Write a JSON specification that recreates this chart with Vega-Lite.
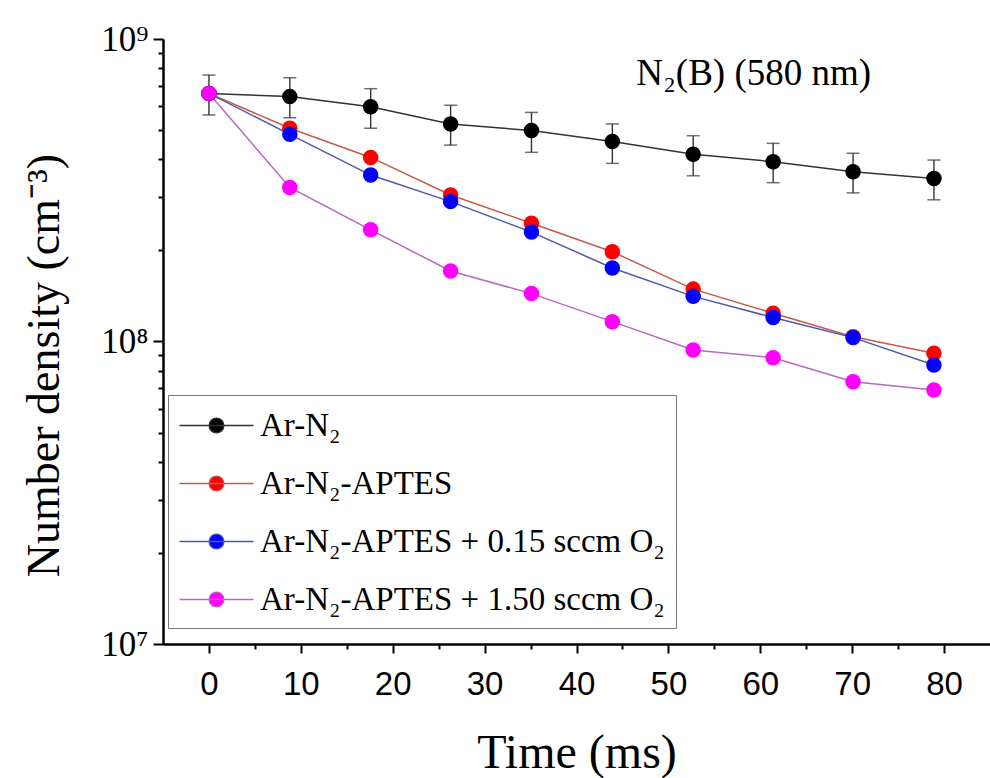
{
  "$schema": "https://vega.github.io/schema/vega-lite/v6.json",
  "width": 827,
  "height": 605,
  "autosize": "none",
  "padding": {"left": 163, "top": 39, "right": 0, "bottom": 134},
  "background": "white",
  "config": {
    "view": {"stroke": null},
    "axis": {"grid": false, "domainColor": "#000", "tickColor": "#000", "labelColor": "#000", "titleColor": "#000", "titleFontWeight": "normal"}
  },
  "data": {
    "values": [
      {"series": "Ar-N₂", "t": 0, "v": 6.61e8, "lo": 5.61e8, "hi": 7.60e8},
      {"series": "Ar-N₂", "t": 8.8, "v": 6.45e8, "lo": 5.49e8, "hi": 7.45e8},
      {"series": "Ar-N₂", "t": 17.6, "v": 5.97e8, "lo": 5.07e8, "hi": 6.85e8},
      {"series": "Ar-N₂", "t": 26.3, "v": 5.24e8, "lo": 4.46e8, "hi": 6.04e8},
      {"series": "Ar-N₂", "t": 35.1, "v": 4.98e8, "lo": 4.22e8, "hi": 5.72e8},
      {"series": "Ar-N₂", "t": 43.9, "v": 4.58e8, "lo": 3.88e8, "hi": 5.24e8},
      {"series": "Ar-N₂", "t": 52.7, "v": 4.16e8, "lo": 3.53e8, "hi": 4.79e8},
      {"series": "Ar-N₂", "t": 61.4, "v": 3.93e8, "lo": 3.35e8, "hi": 4.52e8},
      {"series": "Ar-N₂", "t": 70.1, "v": 3.64e8, "lo": 3.10e8, "hi": 4.19e8},
      {"series": "Ar-N₂", "t": 78.9, "v": 3.46e8, "lo": 2.94e8, "hi": 3.98e8},
      {"series": "Ar-N₂-APTES", "t": 0, "v": 6.61e8},
      {"series": "Ar-N₂-APTES", "t": 8.8, "v": 5.07e8},
      {"series": "Ar-N₂-APTES", "t": 17.6, "v": 4.06e8},
      {"series": "Ar-N₂-APTES", "t": 26.3, "v": 3.05e8},
      {"series": "Ar-N₂-APTES", "t": 35.1, "v": 2.46e8},
      {"series": "Ar-N₂-APTES", "t": 43.9, "v": 1.98e8},
      {"series": "Ar-N₂-APTES", "t": 52.7, "v": 1.49e8},
      {"series": "Ar-N₂-APTES", "t": 61.4, "v": 1.24e8},
      {"series": "Ar-N₂-APTES", "t": 70.1, "v": 1.037e8},
      {"series": "Ar-N₂-APTES", "t": 78.9, "v": 9.14e7},
      {"series": "Ar-N₂-APTES + 0.15 sccm O₂", "t": 0, "v": 6.61e8},
      {"series": "Ar-N₂-APTES + 0.15 sccm O₂", "t": 8.8, "v": 4.84e8},
      {"series": "Ar-N₂-APTES + 0.15 sccm O₂", "t": 17.6, "v": 3.55e8},
      {"series": "Ar-N₂-APTES + 0.15 sccm O₂", "t": 26.3, "v": 2.90e8},
      {"series": "Ar-N₂-APTES + 0.15 sccm O₂", "t": 35.1, "v": 2.30e8},
      {"series": "Ar-N₂-APTES + 0.15 sccm O₂", "t": 43.9, "v": 1.75e8},
      {"series": "Ar-N₂-APTES + 0.15 sccm O₂", "t": 52.7, "v": 1.41e8},
      {"series": "Ar-N₂-APTES + 0.15 sccm O₂", "t": 61.4, "v": 1.20e8},
      {"series": "Ar-N₂-APTES + 0.15 sccm O₂", "t": 70.1, "v": 1.03e8},
      {"series": "Ar-N₂-APTES + 0.15 sccm O₂", "t": 78.9, "v": 8.36e7},
      {"series": "Ar-N₂-APTES + 1.50 sccm O₂", "t": 0, "v": 6.61e8},
      {"series": "Ar-N₂-APTES + 1.50 sccm O₂", "t": 8.8, "v": 3.23e8},
      {"series": "Ar-N₂-APTES + 1.50 sccm O₂", "t": 17.6, "v": 2.34e8},
      {"series": "Ar-N₂-APTES + 1.50 sccm O₂", "t": 26.3, "v": 1.71e8},
      {"series": "Ar-N₂-APTES + 1.50 sccm O₂", "t": 35.1, "v": 1.44e8},
      {"series": "Ar-N₂-APTES + 1.50 sccm O₂", "t": 43.9, "v": 1.163e8},
      {"series": "Ar-N₂-APTES + 1.50 sccm O₂", "t": 52.7, "v": 9.37e7},
      {"series": "Ar-N₂-APTES + 1.50 sccm O₂", "t": 61.4, "v": 8.84e7},
      {"series": "Ar-N₂-APTES + 1.50 sccm O₂", "t": 70.1, "v": 7.36e7},
      {"series": "Ar-N₂-APTES + 1.50 sccm O₂", "t": 78.9, "v": 6.91e7}
    ]
  },
  "layer": [
    {
      "mark": {"type": "line", "strokeWidth": 1.5},
      "encoding": {
        "x": {"field": "t", "type": "quantitative",
          "scale": {"domain": [-5, 85], "nice": false, "zero": false},
          "axis": {"orient": "bottom", "values": [0, 5, 10, 15, 20, 25, 30, 35, 40, 45, 50, 55, 60, 65, 70, 75, 80],
            "tickSize": {"condition": {"test": "datum.value % 10 == 0", "value": 9}, "value": 5},
            "tickWidth": 2, "domainWidth": 2.5,
            "labelExpr": "datum.value % 10 == 0 ? datum.label : ''",
            "labelFont": "Liberation Sans", "labelFontSize": 33, "labelPadding": 15,
            "title": "Time (ms)", "titleFont": "Liberation Serif", "titleFontSize": 48, "titlePadding": 28}},
        "y": {"field": "v", "type": "quantitative",
          "scale": {"type": "log", "domain": [1e7, 1e9], "nice": false},
          "axis": {"orient": "left", "values": [1e7, 2e7, 3e7, 4e7, 5e7, 6e7, 7e7, 8e7, 9e7, 1e8, 2e8, 3e8, 4e8, 5e8, 6e8, 7e8, 8e8, 9e8, 1e9],
            "tickSize": {"condition": {"test": "datum.value == 1e7 || datum.value == 1e8 || datum.value == 1e9", "value": 10}, "value": 5},
            "tickWidth": 2, "domainWidth": 2.5,
            "labelExpr": "datum.value == 1e7 ? '10⁷' : datum.value == 1e8 ? '10⁸' : datum.value == 1e9 ? '10⁹' : ''",
            "labelFont": "Liberation Serif", "labelFontSize": 35, "labelPadding": 5,
            "title": "Number density (cm⁻³)", "titleFont": "Liberation Serif", "titleFontSize": 46,
            "titleAngle": -90, "titleBaseline": "alphabetic", "titleX": -105, "titleY": 326, "titleAlign": "center"}},
        "stroke": {"field": "series", "type": "nominal",
          "scale": {"domain": ["Ar-N₂", "Ar-N₂-APTES", "Ar-N₂-APTES + 0.15 sccm O₂", "Ar-N₂-APTES + 1.50 sccm O₂"],
            "range": ["#333333", "#c8584a", "#4a5aa8", "#b868c0"]},
          "legend": {
            "title": null, "orient": "none", "legendX": 5, "legendY": 356,
            "symbolType": "M-2,0H2M-0.4,0A0.4,0.4 0 1,1 0.4,0A0.4,0.4 0 1,1 -0.4,0Z",
            "symbolSize": 1369, "symbolOffset": 18, "symbolStrokeWidth": 1.3,
            "labelFont": "Liberation Serif", "labelFontSize": 33, "labelColor": "#000", "labelOffset": 24, "labelLimit": 800,
            "rowPadding": 21, "padding": 11, "strokeColor": "#777777", "fillColor": "white"
          }}
      }
    },
    {
      "transform": [{"filter": "isValid(datum.lo)"}],
      "mark": {"type": "rule", "color": "#333333", "strokeWidth": 1.4},
      "encoding": {
        "x": {"field": "t", "type": "quantitative"},
        "y": {"field": "lo", "type": "quantitative"},
        "y2": {"field": "hi"}
      }
    },
    {
      "transform": [{"filter": "isValid(datum.lo)"}],
      "mark": {"type": "tick", "orient": "horizontal", "color": "#333333", "size": 13, "thickness": 1.5},
      "encoding": {
        "x": {"field": "t", "type": "quantitative"},
        "y": {"field": "lo", "type": "quantitative"}
      }
    },
    {
      "transform": [{"filter": "isValid(datum.hi)"}],
      "mark": {"type": "tick", "orient": "horizontal", "color": "#333333", "size": 13, "thickness": 1.5},
      "encoding": {
        "x": {"field": "t", "type": "quantitative"},
        "y": {"field": "hi", "type": "quantitative"}
      }
    },
    {
      "mark": {"type": "point", "shape": "circle", "filled": true, "size": 240, "opacity": 1, "strokeOpacity": 0},
      "encoding": {
        "x": {"field": "t", "type": "quantitative"},
        "y": {"field": "v", "type": "quantitative"},
        "fill": {"field": "series", "type": "nominal",
          "scale": {"domain": ["Ar-N₂", "Ar-N₂-APTES", "Ar-N₂-APTES + 0.15 sccm O₂", "Ar-N₂-APTES + 1.50 sccm O₂"],
            "range": ["#000000", "#ff0000", "#0000ff", "#ff00ff"]},
          "legend": {
            "title": null, "orient": "none", "legendX": 5, "legendY": 356,
            "symbolType": "M-2,0H2M-0.4,0A0.4,0.4 0 1,1 0.4,0A0.4,0.4 0 1,1 -0.4,0Z",
            "symbolSize": 1369, "symbolOffset": 18, "symbolStrokeWidth": 1.3,
            "labelFont": "Liberation Serif", "labelFontSize": 33, "labelColor": "#000", "labelOffset": 24, "labelLimit": 800,
            "rowPadding": 21, "padding": 11, "strokeColor": "#777777", "fillColor": "white"
          }}
      }
    },
    {
      "data": {"values": [{"t": 46.5, "v": 7.05e8, "label": "N₂(B) (580 nm)"}]},
      "mark": {"type": "text", "align": "left", "baseline": "alphabetic", "font": "Liberation Serif", "fontSize": 37, "color": "#000"},
      "encoding": {
        "x": {"field": "t", "type": "quantitative"},
        "y": {"field": "v", "type": "quantitative"},
        "text": {"field": "label"}
      }
    }
  ]
}
